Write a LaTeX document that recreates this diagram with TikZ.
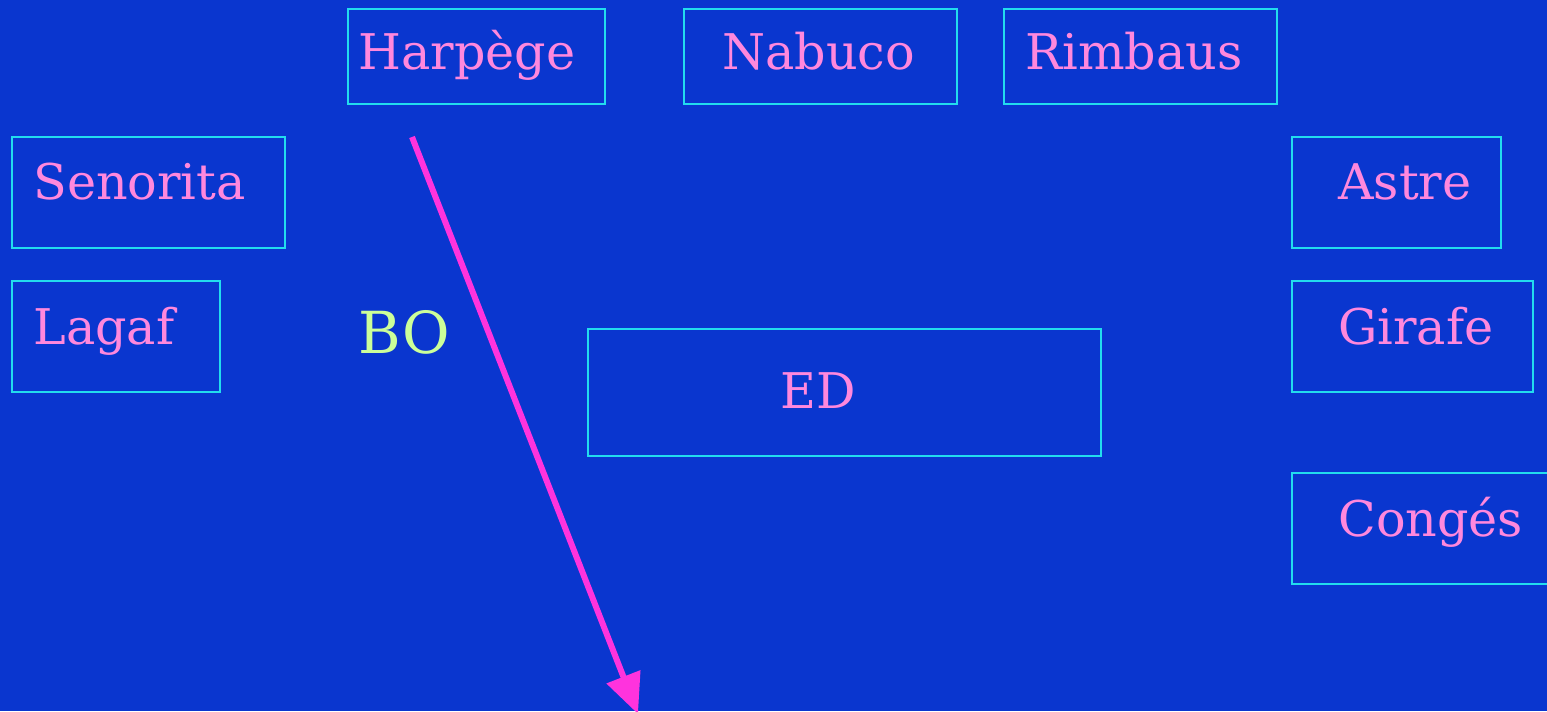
\documentclass[tikz,border=0pt]{standalone}
\usepackage{fontspec}
\setmainfont{DejaVu Serif}
\usetikzlibrary{arrows.meta}
\definecolor{bg}{RGB}{10,54,207}
\definecolor{boxline}{RGB}{34,221,238}
\definecolor{lbl}{RGB}{255,136,221}
\definecolor{bolbl}{RGB}{204,255,153}
\definecolor{arr}{RGB}{255,51,221}
\tikzset{
  box/.style={draw=boxline, line width=1.4pt},
  lab/.style={anchor=base west, inner sep=0pt, text=lbl, font=\fontsize{28}{32}\selectfont},
}
\begin{document}
\begin{tikzpicture}[x=0.02cm, y=-0.02cm]
\fill[bg] (0,0) rectangle (1547,711);
\useasboundingbox (0,0) rectangle (1547,711);
% boxes
\draw[box] (348,9) rectangle (605,104);
\draw[box] (684,9) rectangle (957,104);
\draw[box] (1004,9) rectangle (1277,104);
\draw[box] (12,137) rectangle (285,248);
\draw[box] (12,281) rectangle (220,392);
\draw[box] (1292,137) rectangle (1501,248);
\draw[box] (1292,281) rectangle (1533,392);
\draw[box] (1292,473) rectangle (1570,584);
\draw[box] (588,329) rectangle (1101,456);
% labels
\node[lab] (harpege) at (358,69) {Harpège};
\node[lab] (nabuco) at (722,69) {Nabuco};
\node[lab] (rimbaus) at (1025,69) {Rimbaus};
\node[lab] (senorita) at (33,199) {Senorita};
\node[lab] (lagaf) at (33,344) {Lagaf};
\node[lab] (astre) at (1338,199) {Astre};
\node[lab] (girafe) at (1338,344) {Girafe};
\node[lab] (conges) at (1338,536) {Congés};
\node[lab] (ed) at (780,408) {ED};
\node[lab, text=bolbl, font=\fontsize{33}{36}\selectfont] (bo) at (358,353) {BO};
% arrow
\coordinate (a) at (412,137);
\coordinate (b) at (638,714);
\draw[arr, line width=3.4pt, -{Triangle[length=0.8cm,width=0.7cm]}] (a) -- (b);
\end{tikzpicture}
\end{document}
